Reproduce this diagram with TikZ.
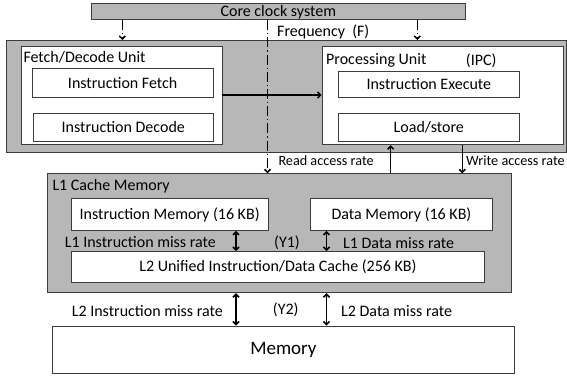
\documentclass[tikz,border=0pt]{standalone}
\usepackage{fontspec}
\setmainfont{Carlito}
\usetikzlibrary{arrows.meta}
\definecolor{boxgray}{RGB}{183,183,183}
\definecolor{edgegray}{RGB}{60,60,60}

\begin{document}
\begin{tikzpicture}[x=1pt,y=-1pt,
  box/.style={draw=edgegray, line width=0.9pt, inner sep=0pt, anchor=north west, font=\fontsize{16}{19}\selectfont},
  graybox/.style={box, fill=boxgray},
  whitebox/.style={box, fill=white},
  lbl/.style={inner sep=0pt, anchor=west, font=\fontsize{16}{19}\selectfont},
  smalllbl/.style={lbl, font=\fontsize{14.2}{17}\selectfont},
  flow/.style={line width=1.5pt, -{Straight Barb[length=3pt,width=6pt]}},
  biflow/.style={line width=1.5pt, {Straight Barb[length=3pt,width=6pt]}-{Straight Barb[length=3pt,width=6pt]}},
  clk/.style={line width=1.5pt, dash pattern=on 10pt off 3pt on 1.2pt off 3pt, -{Straight Barb[length=3pt,width=6pt]}}]
\useasboundingbox (0,0) rectangle (567,376);
%
\node[graybox, minimum width=374.3pt, minimum height=16pt] (clock) at (90.7,3.3) {Core clock system};
%
\node[graybox, minimum width=560pt, minimum height=111.7pt] (cpu) at (6,40) {};
\node[whitebox, minimum width=200.8pt, minimum height=98.6pt] (fdu) at (20.7,45.7) {};
\node[whitebox, minimum width=181pt, minimum height=29pt] (ifetch) at (31.7,67.7) {Instruction Fetch};
\node[whitebox, minimum width=180.3pt, minimum height=28pt] (idecode) at (32.7,112.7) {Instruction Decode};
\node[whitebox, minimum width=241pt, minimum height=98.6pt] (pu) at (321.7,45.7) {};
\node[whitebox, minimum width=181.3pt, minimum height=26pt] (iexec) at (337.7,70.7) {Instruction Execute};
\node[whitebox, minimum width=181.3pt, minimum height=28pt] (ldst) at (337.7,112.7) {Load/store};
%
\node[graybox, minimum width=463.4pt, minimum height=119pt] (lone) at (47.3,173.3) {};
\node[whitebox, minimum width=197pt, minimum height=31.7pt] (imem) at (70.7,198.3) {Instruction Memory (16 KB)};
\node[whitebox, minimum width=182pt, minimum height=31.7pt] (dmem) at (310,198.3) {Data Memory (16 KB)};
\node[whitebox, minimum width=413.6pt, minimum height=31.3pt] (ltwo) at (70.7,251) {L2 Unified Instruction/Data Cache (256 KB)};
%
\node[whitebox, minimum width=462.5pt, minimum height=47.8pt, font=\fontsize{19}{23}\selectfont] (mem) at (51.7,325.5) {Memory};
%
\node[lbl] (fdulbl) at (23.3,57.3) {Fetch/Decode Unit};
\node[lbl] (pulbl) at (326,60.7) {Processing Unit};
\node[lbl] (ipc) at (465.7,60.7) {(IPC)};
\node[lbl] (freq) at (277,32.3) {Frequency~~(F)};
\node[smalllbl] (rd) at (278.3,161) {Read access rate};
\node[smalllbl] (wr) at (466,161) {Write access rate};
\node[lbl] (lonelbl) at (52.3,186) {L1 Cache Memory};
\node[lbl, anchor=east] (l1i) at (216,242) {L1 Instruction miss rate};
\node[lbl] (yone) at (274,243) {(Y1)};
\node[lbl] (l1d) at (343,243) {L1 Data miss rate};
\node[lbl, anchor=east] (l2i) at (223,310.7) {L2 Instruction miss rate};
\node[lbl] (ytwo) at (272.7,309.7) {(Y2)};
\node[lbl] (l2d) at (341,310.7) {L2 Data miss rate};
%
\coordinate (fx) at (267.5,0);
\coordinate (cl) at (122.3,0);
\coordinate (cr) at (417.3,0);
\coordinate (rx) at (390.7,0);
\coordinate (wx) at (462.3,0);
\coordinate (ix) at (236,0);
\coordinate (dx) at (326.5,0);
\coordinate (fy) at (0,95);
%
\draw[clk] (clock.south -| cl) -- (cpu.north -| cl);
\draw[clk] (clock.south -| cr) -- (cpu.north -| cr);
\draw[flow] (fdu.east |- fy) -- (pu.west |- fy);
\draw[clk] (clock.south -| fx) -- (lone.north -| fx);
\draw[flow] (lone.north -| rx) -- (pu.south -| rx);
\draw[flow] (pu.south -| wx) -- (lone.north -| wx);
%
\draw[biflow] (imem.south -| ix) -- (ltwo.north -| ix);
\draw[biflow] (dmem.south -| dx) -- (ltwo.north -| dx);
\draw[biflow] (lone.south -| ix) -- (mem.north -| ix);
\draw[biflow] (lone.south -| dx) -- (mem.north -| dx);
\end{tikzpicture}
\end{document}
